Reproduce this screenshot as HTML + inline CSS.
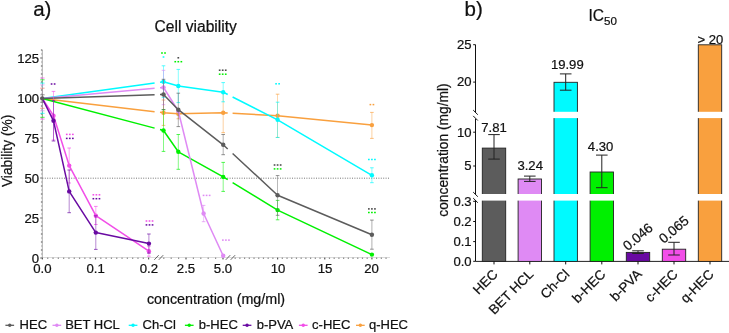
<!DOCTYPE html>
<html><head><meta charset="utf-8"><style>
html,body{margin:0;padding:0;background:#fff;}
svg{display:block;will-change:transform;}
text{font-family:"Liberation Sans", sans-serif;stroke:#111;stroke-width:0.22px;}
</style></head><body>
<svg width="729" height="333" viewBox="0 0 729 333">
<rect width="729" height="333" fill="#fff"/>
<text x="33.2" y="15.6" font-size="20.5" fill="#111">a)</text>
<text x="195.7" y="32.2" font-size="15.6" text-anchor="middle" fill="#111">Cell viability</text>
<text transform="translate(12.3,150.9) rotate(-90)" font-size="13.75" text-anchor="middle" fill="#111">Viability (%)</text>
<text x="216.0" y="303.5" font-size="14.3" text-anchor="middle" fill="#111">concentration (mg/ml)</text>
<line x1="42.3" y1="49.9" x2="42.3" y2="258" stroke="#999" stroke-width="0.8"/>
<line x1="40.2" y1="258.00" x2="42.4" y2="258.00" stroke="#555" stroke-width="0.9"/>
<rect x="41.1" y="253.50" width="1.2" height="1" fill="#999"/>
<rect x="40.9" y="249.50" width="1.4" height="1" fill="#555"/>
<rect x="41.1" y="245.50" width="1.2" height="1" fill="#999"/>
<rect x="40.9" y="241.50" width="1.4" height="1" fill="#555"/>
<rect x="41.1" y="237.50" width="1.2" height="1" fill="#999"/>
<rect x="40.9" y="233.50" width="1.4" height="1" fill="#555"/>
<rect x="41.1" y="229.50" width="1.2" height="1" fill="#999"/>
<rect x="40.9" y="225.50" width="1.4" height="1" fill="#555"/>
<rect x="41.1" y="221.50" width="1.2" height="1" fill="#999"/>
<line x1="40.2" y1="218.00" x2="42.4" y2="218.00" stroke="#555" stroke-width="0.9"/>
<rect x="41.1" y="213.50" width="1.2" height="1" fill="#999"/>
<rect x="40.9" y="209.50" width="1.4" height="1" fill="#555"/>
<rect x="41.1" y="205.50" width="1.2" height="1" fill="#999"/>
<rect x="40.9" y="201.50" width="1.4" height="1" fill="#555"/>
<rect x="41.1" y="197.50" width="1.2" height="1" fill="#999"/>
<rect x="40.9" y="193.50" width="1.4" height="1" fill="#555"/>
<rect x="41.1" y="189.50" width="1.2" height="1" fill="#999"/>
<rect x="40.9" y="185.50" width="1.4" height="1" fill="#555"/>
<rect x="41.1" y="181.50" width="1.2" height="1" fill="#999"/>
<line x1="40.2" y1="178.00" x2="42.4" y2="178.00" stroke="#555" stroke-width="0.9"/>
<rect x="41.1" y="173.50" width="1.2" height="1" fill="#999"/>
<rect x="40.9" y="169.50" width="1.4" height="1" fill="#555"/>
<rect x="41.1" y="165.50" width="1.2" height="1" fill="#999"/>
<rect x="40.9" y="161.50" width="1.4" height="1" fill="#555"/>
<rect x="41.1" y="157.50" width="1.2" height="1" fill="#999"/>
<rect x="40.9" y="153.50" width="1.4" height="1" fill="#555"/>
<rect x="41.1" y="149.50" width="1.2" height="1" fill="#999"/>
<rect x="40.9" y="145.50" width="1.4" height="1" fill="#555"/>
<rect x="41.1" y="141.50" width="1.2" height="1" fill="#999"/>
<line x1="40.2" y1="138.00" x2="42.4" y2="138.00" stroke="#555" stroke-width="0.9"/>
<rect x="41.1" y="133.50" width="1.2" height="1" fill="#999"/>
<rect x="40.9" y="129.50" width="1.4" height="1" fill="#555"/>
<rect x="41.1" y="125.50" width="1.2" height="1" fill="#999"/>
<rect x="40.9" y="121.50" width="1.4" height="1" fill="#555"/>
<rect x="41.1" y="117.50" width="1.2" height="1" fill="#999"/>
<rect x="40.9" y="113.50" width="1.4" height="1" fill="#555"/>
<rect x="41.1" y="109.50" width="1.2" height="1" fill="#999"/>
<rect x="40.9" y="105.50" width="1.4" height="1" fill="#555"/>
<rect x="41.1" y="101.50" width="1.2" height="1" fill="#999"/>
<line x1="40.2" y1="98.00" x2="42.4" y2="98.00" stroke="#555" stroke-width="0.9"/>
<rect x="41.1" y="93.50" width="1.2" height="1" fill="#999"/>
<rect x="40.9" y="89.50" width="1.4" height="1" fill="#555"/>
<rect x="41.1" y="85.50" width="1.2" height="1" fill="#999"/>
<rect x="40.9" y="81.50" width="1.4" height="1" fill="#555"/>
<rect x="41.1" y="77.50" width="1.2" height="1" fill="#999"/>
<rect x="40.9" y="73.50" width="1.4" height="1" fill="#555"/>
<rect x="41.1" y="69.50" width="1.2" height="1" fill="#999"/>
<rect x="40.9" y="65.50" width="1.4" height="1" fill="#555"/>
<rect x="41.1" y="61.50" width="1.2" height="1" fill="#999"/>
<line x1="40.2" y1="58.00" x2="42.4" y2="58.00" stroke="#555" stroke-width="0.9"/>
<rect x="41.1" y="53.50" width="1.2" height="1" fill="#999"/>
<rect x="40.9" y="49.50" width="1.4" height="1" fill="#555"/>
<text x="39.2" y="262.80" font-size="13.2" text-anchor="end" fill="#111">0</text>
<text x="39.2" y="222.80" font-size="13.2" text-anchor="end" fill="#111">25</text>
<text x="39.2" y="182.80" font-size="13.2" text-anchor="end" fill="#111">50</text>
<text x="39.2" y="142.80" font-size="13.2" text-anchor="end" fill="#111">75</text>
<text x="39.2" y="102.80" font-size="13.2" text-anchor="end" fill="#111">100</text>
<text x="39.2" y="62.80" font-size="13.2" text-anchor="end" fill="#111">125</text>
<line x1="42.4" y1="257.5" x2="390" y2="257.5" stroke="#d2d2d2" stroke-width="0.8"/>
<rect x="41.80" y="257.6" width="1.2" height="1.8" fill="#555"/>
<rect x="47.11" y="257.6" width="1.2" height="1.2" fill="#777"/>
<rect x="52.42" y="257.6" width="1.2" height="1.2" fill="#777"/>
<rect x="57.73" y="257.6" width="1.2" height="1.2" fill="#777"/>
<rect x="63.04" y="257.6" width="1.2" height="1.2" fill="#777"/>
<rect x="68.35" y="257.6" width="1.2" height="1.2" fill="#777"/>
<rect x="73.66" y="257.6" width="1.2" height="1.2" fill="#777"/>
<rect x="78.97" y="257.6" width="1.2" height="1.2" fill="#777"/>
<rect x="84.28" y="257.6" width="1.2" height="1.2" fill="#777"/>
<rect x="89.59" y="257.6" width="1.2" height="1.2" fill="#777"/>
<rect x="94.90" y="257.6" width="1.2" height="1.8" fill="#555"/>
<rect x="100.21" y="257.6" width="1.2" height="1.2" fill="#777"/>
<rect x="105.52" y="257.6" width="1.2" height="1.2" fill="#777"/>
<rect x="110.83" y="257.6" width="1.2" height="1.2" fill="#777"/>
<rect x="116.14" y="257.6" width="1.2" height="1.2" fill="#777"/>
<rect x="121.45" y="257.6" width="1.2" height="1.2" fill="#777"/>
<rect x="126.76" y="257.6" width="1.2" height="1.2" fill="#777"/>
<rect x="132.07" y="257.6" width="1.2" height="1.2" fill="#777"/>
<rect x="137.38" y="257.6" width="1.2" height="1.2" fill="#777"/>
<rect x="142.69" y="257.6" width="1.2" height="1.2" fill="#777"/>
<rect x="148.00" y="257.6" width="1.2" height="1.8" fill="#555"/>
<rect x="163.20" y="257.6" width="1.2" height="1.2" fill="#777"/>
<rect x="170.60" y="257.6" width="1.2" height="1.2" fill="#777"/>
<rect x="178.00" y="257.6" width="1.2" height="1.2" fill="#777"/>
<rect x="185.40" y="257.6" width="1.2" height="1.8" fill="#555"/>
<rect x="192.80" y="257.6" width="1.2" height="1.2" fill="#777"/>
<rect x="200.20" y="257.6" width="1.2" height="1.2" fill="#777"/>
<rect x="207.60" y="257.6" width="1.2" height="1.2" fill="#777"/>
<rect x="215.00" y="257.6" width="1.2" height="1.2" fill="#777"/>
<rect x="222.40" y="257.6" width="1.2" height="1.8" fill="#555"/>
<rect x="234.57" y="257.6" width="1.2" height="1.2" fill="#777"/>
<rect x="239.28" y="257.6" width="1.2" height="1.2" fill="#777"/>
<rect x="244.00" y="257.6" width="1.2" height="1.2" fill="#777"/>
<rect x="248.71" y="257.6" width="1.2" height="1.2" fill="#777"/>
<rect x="253.43" y="257.6" width="1.2" height="1.2" fill="#777"/>
<rect x="258.14" y="257.6" width="1.2" height="1.2" fill="#777"/>
<rect x="262.86" y="257.6" width="1.2" height="1.2" fill="#777"/>
<rect x="267.57" y="257.6" width="1.2" height="1.2" fill="#777"/>
<rect x="272.29" y="257.6" width="1.2" height="1.2" fill="#777"/>
<rect x="277.00" y="257.6" width="1.2" height="1.8" fill="#555"/>
<rect x="281.71" y="257.6" width="1.2" height="1.2" fill="#777"/>
<rect x="286.43" y="257.6" width="1.2" height="1.2" fill="#777"/>
<rect x="291.14" y="257.6" width="1.2" height="1.2" fill="#777"/>
<rect x="295.86" y="257.6" width="1.2" height="1.2" fill="#777"/>
<rect x="300.57" y="257.6" width="1.2" height="1.2" fill="#777"/>
<rect x="305.29" y="257.6" width="1.2" height="1.2" fill="#777"/>
<rect x="310.00" y="257.6" width="1.2" height="1.2" fill="#777"/>
<rect x="314.72" y="257.6" width="1.2" height="1.2" fill="#777"/>
<rect x="319.44" y="257.6" width="1.2" height="1.2" fill="#777"/>
<rect x="324.15" y="257.6" width="1.2" height="1.8" fill="#555"/>
<rect x="328.87" y="257.6" width="1.2" height="1.2" fill="#777"/>
<rect x="333.58" y="257.6" width="1.2" height="1.2" fill="#777"/>
<rect x="338.30" y="257.6" width="1.2" height="1.2" fill="#777"/>
<rect x="343.01" y="257.6" width="1.2" height="1.2" fill="#777"/>
<rect x="347.73" y="257.6" width="1.2" height="1.2" fill="#777"/>
<rect x="352.44" y="257.6" width="1.2" height="1.2" fill="#777"/>
<rect x="357.15" y="257.6" width="1.2" height="1.2" fill="#777"/>
<rect x="361.87" y="257.6" width="1.2" height="1.2" fill="#777"/>
<rect x="366.58" y="257.6" width="1.2" height="1.2" fill="#777"/>
<rect x="371.30" y="257.6" width="1.2" height="1.8" fill="#555"/>
<rect x="376.01" y="257.6" width="1.2" height="1.2" fill="#777"/>
<rect x="380.73" y="257.6" width="1.2" height="1.2" fill="#777"/>
<rect x="385.44" y="257.6" width="1.2" height="1.2" fill="#777"/>
<line x1="154.3" y1="259.8" x2="158.7" y2="255.2" stroke="#555" stroke-width="0.9"/>
<line x1="158.8" y1="259.8" x2="163.2" y2="255.2" stroke="#555" stroke-width="0.9"/>
<line x1="225.8" y1="259.8" x2="230.2" y2="255.2" stroke="#555" stroke-width="0.9"/>
<line x1="230.7" y1="259.8" x2="235.1" y2="255.2" stroke="#555" stroke-width="0.9"/>
<text x="42.4" y="273.3" font-size="13.2" text-anchor="middle" fill="#111">0.0</text>
<text x="95.6" y="273.3" font-size="13.2" text-anchor="middle" fill="#111">0.1</text>
<text x="148.9" y="273.3" font-size="13.2" text-anchor="middle" fill="#111">0.2</text>
<text x="186" y="273.3" font-size="13.2" text-anchor="middle" fill="#111">2.5</text>
<text x="223" y="273.3" font-size="13.2" text-anchor="middle" fill="#111">5.0</text>
<text x="278" y="273.3" font-size="13.2" text-anchor="middle" fill="#111">10</text>
<text x="325" y="273.3" font-size="13.2" text-anchor="middle" fill="#111">15</text>
<text x="371.5" y="273.3" font-size="13.2" text-anchor="middle" fill="#111">20</text>
<line x1="42.4" y1="178.2" x2="390" y2="178.2" stroke="#666" stroke-width="0.9" stroke-dasharray="1 1.4"/>
<line x1="42.4" y1="78.0" x2="42.4" y2="119.1" stroke="#f24ee8" stroke-width="0.6" opacity="0.6"/>
<line x1="40.199999999999996" y1="78.0" x2="44.6" y2="78.0" stroke="#f24ee8" stroke-width="0.9" opacity="0.75"/>
<line x1="40.199999999999996" y1="119.1" x2="44.6" y2="119.1" stroke="#f24ee8" stroke-width="0.9" opacity="0.75"/>
<line x1="42.4" y1="79.8" x2="42.4" y2="117.3" stroke="#00f000" stroke-width="0.6" opacity="0.6"/>
<line x1="40.199999999999996" y1="79.8" x2="44.6" y2="79.8" stroke="#00f000" stroke-width="0.9" opacity="0.75"/>
<line x1="40.199999999999996" y1="117.3" x2="44.6" y2="117.3" stroke="#00f000" stroke-width="0.9" opacity="0.75"/>
<line x1="42.4" y1="83.1" x2="42.4" y2="113.3" stroke="#00faff" stroke-width="0.6" opacity="0.6"/>
<line x1="40.199999999999996" y1="83.1" x2="44.6" y2="83.1" stroke="#00faff" stroke-width="0.9" opacity="0.75"/>
<line x1="40.199999999999996" y1="113.3" x2="44.6" y2="113.3" stroke="#00faff" stroke-width="0.9" opacity="0.75"/>
<line x1="42.4" y1="84.9" x2="42.4" y2="110.8" stroke="#df8af4" stroke-width="0.6" opacity="0.6"/>
<line x1="40.199999999999996" y1="84.9" x2="44.6" y2="84.9" stroke="#df8af4" stroke-width="0.9" opacity="0.75"/>
<line x1="40.199999999999996" y1="110.8" x2="44.6" y2="110.8" stroke="#df8af4" stroke-width="0.9" opacity="0.75"/>
<line x1="42.4" y1="88.2" x2="42.4" y2="108.3" stroke="#ec7468" stroke-width="0.6" opacity="0.6"/>
<line x1="40.199999999999996" y1="88.2" x2="44.6" y2="88.2" stroke="#ec7468" stroke-width="0.9" opacity="0.75"/>
<line x1="40.199999999999996" y1="108.3" x2="44.6" y2="108.3" stroke="#ec7468" stroke-width="0.9" opacity="0.75"/>
<line x1="42.4" y1="94.8" x2="42.4" y2="102.2" stroke="#5c5c5c" stroke-width="0.6" opacity="0.6"/>
<line x1="40.199999999999996" y1="94.8" x2="44.6" y2="94.8" stroke="#5c5c5c" stroke-width="0.9" opacity="0.75"/>
<line x1="40.199999999999996" y1="102.2" x2="44.6" y2="102.2" stroke="#5c5c5c" stroke-width="0.9" opacity="0.75"/>
<line x1="163.5" y1="100.0" x2="163.5" y2="125.4" stroke="#f9a03e" stroke-width="0.8" opacity="0.6"/>
<line x1="161.7" y1="100.0" x2="165.3" y2="100.0" stroke="#f9a03e" stroke-width="0.9" opacity="0.75"/>
<line x1="161.7" y1="125.4" x2="165.3" y2="125.4" stroke="#f9a03e" stroke-width="0.9" opacity="0.75"/>
<line x1="178.3" y1="108.8" x2="178.3" y2="118.8" stroke="#f9a03e" stroke-width="0.8" opacity="0.6"/>
<line x1="176.5" y1="108.8" x2="180.10000000000002" y2="108.8" stroke="#f9a03e" stroke-width="0.9" opacity="0.75"/>
<line x1="176.5" y1="118.8" x2="180.10000000000002" y2="118.8" stroke="#f9a03e" stroke-width="0.9" opacity="0.75"/>
<line x1="223.2" y1="92.70000000000002" x2="223.2" y2="132.7" stroke="#f9a03e" stroke-width="0.8" opacity="0.6"/>
<line x1="221.39999999999998" y1="92.70000000000002" x2="225.0" y2="92.70000000000002" stroke="#f9a03e" stroke-width="0.9" opacity="0.75"/>
<line x1="221.39999999999998" y1="132.7" x2="225.0" y2="132.7" stroke="#f9a03e" stroke-width="0.9" opacity="0.75"/>
<line x1="277.6" y1="94.2" x2="277.6" y2="137.39999999999998" stroke="#f9a03e" stroke-width="0.8" opacity="0.6"/>
<line x1="275.8" y1="94.2" x2="279.40000000000003" y2="94.2" stroke="#f9a03e" stroke-width="0.9" opacity="0.75"/>
<line x1="275.8" y1="137.39999999999998" x2="279.40000000000003" y2="137.39999999999998" stroke="#f9a03e" stroke-width="0.9" opacity="0.75"/>
<line x1="371.9" y1="112.4" x2="371.9" y2="138.4" stroke="#f9a03e" stroke-width="0.8" opacity="0.6"/>
<line x1="370.09999999999997" y1="112.4" x2="373.7" y2="112.4" stroke="#f9a03e" stroke-width="0.9" opacity="0.75"/>
<line x1="370.09999999999997" y1="138.4" x2="373.7" y2="138.4" stroke="#f9a03e" stroke-width="0.9" opacity="0.75"/>
<path d="M42.30,98.40L154.60,111.65M160.00,112.29L163.50,112.70M163.50,112.70L178.30,113.80M178.30,113.80L223.20,112.70M223.20,112.70L227.70,112.96M232.60,113.24L277.60,115.80M277.60,115.80L371.90,125.10" stroke="#f9a03e" stroke-width="1.5" fill="none"/>
<circle cx="163.5" cy="112.7" r="2.2" fill="#f9a03e"/>
<circle cx="178.3" cy="113.8" r="2.2" fill="#f9a03e"/>
<circle cx="223.2" cy="112.7" r="2.2" fill="#f9a03e"/>
<circle cx="277.6" cy="115.8" r="2.2" fill="#f9a03e"/>
<circle cx="371.9" cy="125.1" r="2.2" fill="#f9a03e"/>
<line x1="163.5" y1="109.6" x2="163.5" y2="151.4" stroke="#00f000" stroke-width="0.8" opacity="0.6"/>
<line x1="161.7" y1="109.6" x2="165.3" y2="109.6" stroke="#00f000" stroke-width="0.9" opacity="0.75"/>
<line x1="161.7" y1="151.4" x2="165.3" y2="151.4" stroke="#00f000" stroke-width="0.9" opacity="0.75"/>
<line x1="178.3" y1="134.5" x2="178.3" y2="169.3" stroke="#00f000" stroke-width="0.8" opacity="0.6"/>
<line x1="176.5" y1="134.5" x2="180.10000000000002" y2="134.5" stroke="#00f000" stroke-width="0.9" opacity="0.75"/>
<line x1="176.5" y1="169.3" x2="180.10000000000002" y2="169.3" stroke="#00f000" stroke-width="0.9" opacity="0.75"/>
<line x1="223.2" y1="162.4" x2="223.2" y2="191.4" stroke="#00f000" stroke-width="0.8" opacity="0.6"/>
<line x1="221.39999999999998" y1="162.4" x2="225.0" y2="162.4" stroke="#00f000" stroke-width="0.9" opacity="0.75"/>
<line x1="221.39999999999998" y1="191.4" x2="225.0" y2="191.4" stroke="#00f000" stroke-width="0.9" opacity="0.75"/>
<line x1="277.6" y1="200.4" x2="277.6" y2="219.8" stroke="#00f000" stroke-width="0.8" opacity="0.6"/>
<line x1="275.8" y1="200.4" x2="279.40000000000003" y2="200.4" stroke="#00f000" stroke-width="0.9" opacity="0.75"/>
<line x1="275.8" y1="219.8" x2="279.40000000000003" y2="219.8" stroke="#00f000" stroke-width="0.9" opacity="0.75"/>
<path d="M42.30,98.40L154.60,128.14M160.00,129.57L163.50,130.50M163.50,130.50L178.30,151.80M178.30,151.80L223.20,176.90M223.20,176.90L227.70,179.65M232.60,182.64L277.60,210.10M277.60,210.10L371.90,254.60" stroke="#00f000" stroke-width="1.5" fill="none"/>
<circle cx="163.5" cy="130.5" r="2.2" fill="#00f000"/>
<circle cx="178.3" cy="151.8" r="2.2" fill="#00f000"/>
<circle cx="223.2" cy="176.9" r="2.2" fill="#00f000"/>
<circle cx="277.6" cy="210.1" r="2.2" fill="#00f000"/>
<circle cx="371.9" cy="254.6" r="2.2" fill="#00f000"/>
<line x1="163.5" y1="65.8" x2="163.5" y2="97.60000000000001" stroke="#00faff" stroke-width="0.8" opacity="0.6"/>
<line x1="161.7" y1="65.8" x2="165.3" y2="65.8" stroke="#00faff" stroke-width="0.9" opacity="0.75"/>
<line x1="161.7" y1="97.60000000000001" x2="165.3" y2="97.60000000000001" stroke="#00faff" stroke-width="0.9" opacity="0.75"/>
<line x1="178.3" y1="69.4" x2="178.3" y2="102.6" stroke="#00faff" stroke-width="0.8" opacity="0.6"/>
<line x1="176.5" y1="69.4" x2="180.10000000000002" y2="69.4" stroke="#00faff" stroke-width="0.9" opacity="0.75"/>
<line x1="176.5" y1="102.6" x2="180.10000000000002" y2="102.6" stroke="#00faff" stroke-width="0.9" opacity="0.75"/>
<line x1="223.2" y1="82.6" x2="223.2" y2="101.80000000000001" stroke="#00faff" stroke-width="0.8" opacity="0.6"/>
<line x1="221.39999999999998" y1="82.6" x2="225.0" y2="82.6" stroke="#00faff" stroke-width="0.9" opacity="0.75"/>
<line x1="221.39999999999998" y1="101.80000000000001" x2="225.0" y2="101.80000000000001" stroke="#00faff" stroke-width="0.9" opacity="0.75"/>
<line x1="277.6" y1="102.2" x2="277.6" y2="137.5" stroke="#00faff" stroke-width="0.8" opacity="0.6"/>
<line x1="275.8" y1="102.2" x2="279.40000000000003" y2="102.2" stroke="#00faff" stroke-width="0.9" opacity="0.75"/>
<line x1="275.8" y1="137.5" x2="279.40000000000003" y2="137.5" stroke="#00faff" stroke-width="0.9" opacity="0.75"/>
<line x1="371.9" y1="167.8" x2="371.9" y2="182.7" stroke="#00faff" stroke-width="0.8" opacity="0.6"/>
<line x1="370.09999999999997" y1="167.8" x2="373.7" y2="167.8" stroke="#00faff" stroke-width="0.9" opacity="0.75"/>
<line x1="370.09999999999997" y1="182.7" x2="373.7" y2="182.7" stroke="#00faff" stroke-width="0.9" opacity="0.75"/>
<path d="M42.30,98.40L154.60,82.93M160.00,82.18L163.50,81.70M163.50,81.70L178.30,86.00M178.30,86.00L223.20,92.20M223.20,92.20L227.70,94.48M232.60,96.97L277.60,119.80M277.60,119.80L371.90,175.30" stroke="#00faff" stroke-width="1.5" fill="none"/>
<circle cx="163.5" cy="81.7" r="2.2" fill="#00faff"/>
<circle cx="178.3" cy="86.0" r="2.2" fill="#00faff"/>
<circle cx="223.2" cy="92.2" r="2.2" fill="#00faff"/>
<circle cx="277.6" cy="119.8" r="2.2" fill="#00faff"/>
<circle cx="371.9" cy="175.3" r="2.2" fill="#00faff"/>
<line x1="163.5" y1="70.3" x2="163.5" y2="104.7" stroke="#df8af4" stroke-width="0.8" opacity="0.6"/>
<line x1="161.7" y1="70.3" x2="165.3" y2="70.3" stroke="#df8af4" stroke-width="0.9" opacity="0.75"/>
<line x1="161.7" y1="104.7" x2="165.3" y2="104.7" stroke="#df8af4" stroke-width="0.9" opacity="0.75"/>
<line x1="203.6" y1="205.4" x2="203.6" y2="221.7" stroke="#df8af4" stroke-width="0.8" opacity="0.6"/>
<line x1="201.79999999999998" y1="205.4" x2="205.4" y2="205.4" stroke="#df8af4" stroke-width="0.9" opacity="0.75"/>
<line x1="201.79999999999998" y1="221.7" x2="205.4" y2="221.7" stroke="#df8af4" stroke-width="0.9" opacity="0.75"/>
<path d="M42.30,98.40L154.60,88.30M160.00,87.81L163.50,87.50M163.50,87.50L178.30,111.00M178.30,111.00L203.60,213.50M203.60,213.50L223.20,255.80" stroke="#df8af4" stroke-width="1.5" fill="none"/>
<circle cx="163.5" cy="87.5" r="2.2" fill="#df8af4"/>
<circle cx="178.3" cy="111.0" r="2.2" fill="#df8af4"/>
<circle cx="203.6" cy="213.5" r="2.2" fill="#df8af4"/>
<circle cx="223.2" cy="255.8" r="2.2" fill="#df8af4"/>
<line x1="163.5" y1="79.3" x2="163.5" y2="109.7" stroke="#5c5c5c" stroke-width="0.8" opacity="0.6"/>
<line x1="161.7" y1="79.3" x2="165.3" y2="79.3" stroke="#5c5c5c" stroke-width="0.9" opacity="0.75"/>
<line x1="161.7" y1="109.7" x2="165.3" y2="109.7" stroke="#5c5c5c" stroke-width="0.9" opacity="0.75"/>
<line x1="178.3" y1="93.2" x2="178.3" y2="126.6" stroke="#5c5c5c" stroke-width="0.8" opacity="0.6"/>
<line x1="176.5" y1="93.2" x2="180.10000000000002" y2="93.2" stroke="#5c5c5c" stroke-width="0.9" opacity="0.75"/>
<line x1="176.5" y1="126.6" x2="180.10000000000002" y2="126.6" stroke="#5c5c5c" stroke-width="0.9" opacity="0.75"/>
<line x1="223.2" y1="134.5" x2="223.2" y2="154.7" stroke="#5c5c5c" stroke-width="0.8" opacity="0.6"/>
<line x1="221.39999999999998" y1="134.5" x2="225.0" y2="134.5" stroke="#5c5c5c" stroke-width="0.9" opacity="0.75"/>
<line x1="221.39999999999998" y1="154.7" x2="225.0" y2="154.7" stroke="#5c5c5c" stroke-width="0.9" opacity="0.75"/>
<line x1="277.6" y1="175.6" x2="277.6" y2="215.3" stroke="#5c5c5c" stroke-width="0.8" opacity="0.6"/>
<line x1="275.8" y1="175.6" x2="279.40000000000003" y2="175.6" stroke="#5c5c5c" stroke-width="0.9" opacity="0.75"/>
<line x1="275.8" y1="215.3" x2="279.40000000000003" y2="215.3" stroke="#5c5c5c" stroke-width="0.9" opacity="0.75"/>
<line x1="371.9" y1="220.1" x2="371.9" y2="249.2" stroke="#5c5c5c" stroke-width="0.8" opacity="0.6"/>
<line x1="370.09999999999997" y1="220.1" x2="373.7" y2="220.1" stroke="#5c5c5c" stroke-width="0.9" opacity="0.75"/>
<line x1="370.09999999999997" y1="249.2" x2="373.7" y2="249.2" stroke="#5c5c5c" stroke-width="0.9" opacity="0.75"/>
<path d="M42.30,98.40L154.60,94.79M160.00,94.61L163.50,94.50M163.50,94.50L178.30,109.70M178.30,109.70L223.20,144.80M223.20,144.80L227.70,148.97M232.60,153.51L277.60,195.20M277.60,195.20L371.90,234.70" stroke="#5c5c5c" stroke-width="1.5" fill="none"/>
<circle cx="163.5" cy="94.5" r="2.2" fill="#5c5c5c"/>
<circle cx="178.3" cy="109.7" r="2.2" fill="#5c5c5c"/>
<circle cx="223.2" cy="144.8" r="2.2" fill="#5c5c5c"/>
<circle cx="277.6" cy="195.2" r="2.2" fill="#5c5c5c"/>
<circle cx="371.9" cy="234.7" r="2.2" fill="#5c5c5c"/>
<line x1="53.5" y1="91.4" x2="53.5" y2="140.0" stroke="#f24ee8" stroke-width="0.8" opacity="0.6"/>
<line x1="51.7" y1="91.4" x2="55.3" y2="91.4" stroke="#f24ee8" stroke-width="0.9" opacity="0.75"/>
<line x1="51.7" y1="140.0" x2="55.3" y2="140.0" stroke="#f24ee8" stroke-width="0.9" opacity="0.75"/>
<line x1="69.2" y1="148" x2="69.2" y2="183" stroke="#f24ee8" stroke-width="0.8" opacity="0.6"/>
<line x1="67.4" y1="148" x2="71.0" y2="148" stroke="#f24ee8" stroke-width="0.9" opacity="0.75"/>
<line x1="67.4" y1="183" x2="71.0" y2="183" stroke="#f24ee8" stroke-width="0.9" opacity="0.75"/>
<line x1="95.8" y1="206.4" x2="95.8" y2="224.5" stroke="#f24ee8" stroke-width="0.8" opacity="0.6"/>
<line x1="94.0" y1="206.4" x2="97.6" y2="206.4" stroke="#f24ee8" stroke-width="0.9" opacity="0.75"/>
<line x1="94.0" y1="224.5" x2="97.6" y2="224.5" stroke="#f24ee8" stroke-width="0.9" opacity="0.75"/>
<line x1="148.9" y1="246.2" x2="148.9" y2="256.2" stroke="#f24ee8" stroke-width="0.8" opacity="0.6"/>
<line x1="147.1" y1="246.2" x2="150.70000000000002" y2="246.2" stroke="#f24ee8" stroke-width="0.9" opacity="0.75"/>
<line x1="147.1" y1="256.2" x2="150.70000000000002" y2="256.2" stroke="#f24ee8" stroke-width="0.9" opacity="0.75"/>
<path d="M42.30,98.40L53.50,115.70M53.50,115.70L69.20,165.60M69.20,165.60L95.80,215.70M95.80,215.70L148.90,251.20" stroke="#f24ee8" stroke-width="1.5" fill="none"/>
<circle cx="53.5" cy="115.7" r="2.2" fill="#f24ee8"/>
<circle cx="69.2" cy="165.6" r="2.2" fill="#f24ee8"/>
<circle cx="95.8" cy="215.7" r="2.2" fill="#f24ee8"/>
<circle cx="148.9" cy="251.2" r="2.2" fill="#f24ee8"/>
<line x1="53.5" y1="100.6" x2="53.5" y2="141" stroke="#690aa2" stroke-width="0.8" opacity="0.6"/>
<line x1="51.7" y1="100.6" x2="55.3" y2="100.6" stroke="#690aa2" stroke-width="0.9" opacity="0.75"/>
<line x1="51.7" y1="141" x2="55.3" y2="141" stroke="#690aa2" stroke-width="0.9" opacity="0.75"/>
<line x1="69.2" y1="170" x2="69.2" y2="212.7" stroke="#690aa2" stroke-width="0.8" opacity="0.6"/>
<line x1="67.4" y1="170" x2="71.0" y2="170" stroke="#690aa2" stroke-width="0.9" opacity="0.75"/>
<line x1="67.4" y1="212.7" x2="71.0" y2="212.7" stroke="#690aa2" stroke-width="0.9" opacity="0.75"/>
<line x1="95.8" y1="215.8" x2="95.8" y2="249.4" stroke="#690aa2" stroke-width="0.8" opacity="0.6"/>
<line x1="94.0" y1="215.8" x2="97.6" y2="215.8" stroke="#690aa2" stroke-width="0.9" opacity="0.75"/>
<line x1="94.0" y1="249.4" x2="97.6" y2="249.4" stroke="#690aa2" stroke-width="0.9" opacity="0.75"/>
<line x1="148.9" y1="234" x2="148.9" y2="253.2" stroke="#690aa2" stroke-width="0.8" opacity="0.6"/>
<line x1="147.1" y1="234" x2="150.70000000000002" y2="234" stroke="#690aa2" stroke-width="0.9" opacity="0.75"/>
<line x1="147.1" y1="253.2" x2="150.70000000000002" y2="253.2" stroke="#690aa2" stroke-width="0.9" opacity="0.75"/>
<path d="M42.30,98.40L53.50,120.80M53.50,120.80L69.20,191.40M69.20,191.40L95.80,232.60M95.80,232.60L148.90,243.60" stroke="#690aa2" stroke-width="1.5" fill="none"/>
<circle cx="53.5" cy="120.8" r="2.2" fill="#690aa2"/>
<circle cx="69.2" cy="191.4" r="2.2" fill="#690aa2"/>
<circle cx="95.8" cy="232.6" r="2.2" fill="#690aa2"/>
<circle cx="148.9" cy="243.6" r="2.2" fill="#690aa2"/>
<circle cx="42.3" cy="98.4" r="2.2" fill="#5b5b5b"/>
<rect x="50.73" y="83.25" width="1.7" height="1.5" fill="#690aa2"/>
<rect x="53.77" y="83.25" width="1.7" height="1.5" fill="#690aa2"/>
<rect x="65.91" y="133.65" width="1.7" height="1.5" fill="#f24ee8"/>
<rect x="68.95" y="133.65" width="1.7" height="1.5" fill="#f24ee8"/>
<rect x="72.00" y="133.65" width="1.7" height="1.5" fill="#f24ee8"/>
<rect x="65.91" y="137.65" width="1.7" height="1.5" fill="#690aa2"/>
<rect x="68.95" y="137.65" width="1.7" height="1.5" fill="#690aa2"/>
<rect x="72.00" y="137.65" width="1.7" height="1.5" fill="#690aa2"/>
<rect x="92.51" y="194.05" width="1.7" height="1.5" fill="#f24ee8"/>
<rect x="95.55" y="194.05" width="1.7" height="1.5" fill="#f24ee8"/>
<rect x="98.60" y="194.05" width="1.7" height="1.5" fill="#f24ee8"/>
<rect x="92.51" y="197.95" width="1.7" height="1.5" fill="#690aa2"/>
<rect x="95.55" y="197.95" width="1.7" height="1.5" fill="#690aa2"/>
<rect x="98.60" y="197.95" width="1.7" height="1.5" fill="#690aa2"/>
<rect x="145.61" y="220.25" width="1.7" height="1.5" fill="#f24ee8"/>
<rect x="148.65" y="220.25" width="1.7" height="1.5" fill="#f24ee8"/>
<rect x="151.69" y="220.25" width="1.7" height="1.5" fill="#f24ee8"/>
<rect x="145.61" y="224.15" width="1.7" height="1.5" fill="#690aa2"/>
<rect x="148.65" y="224.15" width="1.7" height="1.5" fill="#690aa2"/>
<rect x="151.69" y="224.15" width="1.7" height="1.5" fill="#690aa2"/>
<rect x="161.13" y="52.25" width="1.7" height="1.5" fill="#00f000"/>
<rect x="164.17" y="52.25" width="1.7" height="1.5" fill="#00f000"/>
<rect x="162.65" y="56.25" width="1.7" height="1.5" fill="#00faff"/>
<rect x="177.45" y="57.05" width="1.7" height="1.5" fill="#444"/>
<rect x="174.41" y="60.95" width="1.7" height="1.5" fill="#00f000"/>
<rect x="177.45" y="60.95" width="1.7" height="1.5" fill="#00f000"/>
<rect x="180.50" y="60.95" width="1.7" height="1.5" fill="#00f000"/>
<rect x="218.81" y="69.45" width="1.7" height="1.5" fill="#444"/>
<rect x="221.85" y="69.45" width="1.7" height="1.5" fill="#444"/>
<rect x="224.89" y="69.45" width="1.7" height="1.5" fill="#444"/>
<rect x="218.81" y="73.45" width="1.7" height="1.5" fill="#00f000"/>
<rect x="221.85" y="73.45" width="1.7" height="1.5" fill="#00f000"/>
<rect x="224.89" y="73.45" width="1.7" height="1.5" fill="#00f000"/>
<rect x="202.71" y="194.65" width="1.7" height="1.5" fill="#df8af4"/>
<rect x="205.75" y="194.65" width="1.7" height="1.5" fill="#df8af4"/>
<rect x="208.79" y="194.65" width="1.7" height="1.5" fill="#df8af4"/>
<rect x="222.01" y="239.35" width="1.7" height="1.5" fill="#df8af4"/>
<rect x="225.05" y="239.35" width="1.7" height="1.5" fill="#df8af4"/>
<rect x="228.09" y="239.35" width="1.7" height="1.5" fill="#df8af4"/>
<rect x="275.23" y="83.05" width="1.7" height="1.5" fill="#00faff"/>
<rect x="278.27" y="83.05" width="1.7" height="1.5" fill="#00faff"/>
<rect x="273.70" y="164.25" width="1.7" height="1.5" fill="#444"/>
<rect x="276.75" y="164.25" width="1.7" height="1.5" fill="#444"/>
<rect x="279.80" y="164.25" width="1.7" height="1.5" fill="#444"/>
<rect x="273.70" y="168.15" width="1.7" height="1.5" fill="#00f000"/>
<rect x="276.75" y="168.15" width="1.7" height="1.5" fill="#00f000"/>
<rect x="279.80" y="168.15" width="1.7" height="1.5" fill="#00f000"/>
<rect x="369.53" y="103.85" width="1.7" height="1.5" fill="#f9a03e"/>
<rect x="372.57" y="103.85" width="1.7" height="1.5" fill="#f9a03e"/>
<rect x="368.00" y="158.75" width="1.7" height="1.5" fill="#00faff"/>
<rect x="371.05" y="158.75" width="1.7" height="1.5" fill="#00faff"/>
<rect x="374.09" y="158.75" width="1.7" height="1.5" fill="#00faff"/>
<rect x="368.00" y="208.15" width="1.7" height="1.5" fill="#444"/>
<rect x="371.05" y="208.15" width="1.7" height="1.5" fill="#444"/>
<rect x="374.09" y="208.15" width="1.7" height="1.5" fill="#444"/>
<rect x="368.00" y="211.75" width="1.7" height="1.5" fill="#00f000"/>
<rect x="371.05" y="211.75" width="1.7" height="1.5" fill="#00f000"/>
<rect x="374.09" y="211.75" width="1.7" height="1.5" fill="#00f000"/>
<line x1="5.4" y1="325.3" x2="14.1" y2="325.3" stroke="#5c5c5c" stroke-width="1.3"/>
<circle cx="9.75" cy="325.3" r="1.7" fill="#5c5c5c"/>
<text x="19.6" y="329.3" font-size="13" fill="#111">HEC</text>
<line x1="52.5" y1="325.3" x2="61.2" y2="325.3" stroke="#df8af4" stroke-width="1.3"/>
<circle cx="56.85" cy="325.3" r="1.7" fill="#df8af4"/>
<text x="65.2" y="329.3" font-size="13" fill="#111">BET HCL</text>
<line x1="128.7" y1="325.3" x2="137.39999999999998" y2="325.3" stroke="#00faff" stroke-width="1.3"/>
<circle cx="133.04999999999998" cy="325.3" r="1.7" fill="#00faff"/>
<text x="142.6" y="329.3" font-size="13" fill="#111">Ch-Cl</text>
<line x1="184.9" y1="325.3" x2="193.6" y2="325.3" stroke="#00f000" stroke-width="1.3"/>
<circle cx="189.25" cy="325.3" r="1.7" fill="#00f000"/>
<text x="198.8" y="329.3" font-size="13" fill="#111">b-HEC</text>
<line x1="242.7" y1="325.3" x2="251.39999999999998" y2="325.3" stroke="#690aa2" stroke-width="1.3"/>
<circle cx="247.04999999999998" cy="325.3" r="1.7" fill="#690aa2"/>
<text x="256.7" y="329.3" font-size="13" fill="#111">b-PVA</text>
<line x1="298.9" y1="325.3" x2="307.59999999999997" y2="325.3" stroke="#f24ee8" stroke-width="1.3"/>
<circle cx="303.25" cy="325.3" r="1.7" fill="#f24ee8"/>
<text x="312.1" y="329.3" font-size="13" fill="#111">c-HEC</text>
<line x1="356" y1="325.3" x2="364.7" y2="325.3" stroke="#f9a03e" stroke-width="1.3"/>
<circle cx="360.35" cy="325.3" r="1.7" fill="#f9a03e"/>
<text x="369" y="329.3" font-size="13" fill="#111">q-HEC</text>
<text x="464.6" y="15.6" font-size="20.5" fill="#111">b)</text>
<text x="588.5" y="21" font-size="15.6" fill="#111">IC<tspan font-size="11.6" dy="3.8">50</tspan></text>
<text transform="translate(448.3,150.0) rotate(-90)" font-size="13.8" text-anchor="middle" fill="#111">concentration (mg/ml)</text>
<path d="M475.5,44.7V112.3M475.5,118.9V194.3M475.5,200.2V261.4" stroke="#111" stroke-width="1" fill="none"/>
<line x1="473.2" y1="44.7" x2="475.5" y2="44.7" stroke="#111" stroke-width="1"/>
<text x="471.6" y="49.0" font-size="13.1" text-anchor="end" fill="#111">25</text>
<line x1="473.2" y1="82.1" x2="475.5" y2="82.1" stroke="#111" stroke-width="1"/>
<text x="471.6" y="86.4" font-size="13.1" text-anchor="end" fill="#111">20</text>
<line x1="473.2" y1="132.2" x2="475.5" y2="132.2" stroke="#111" stroke-width="1"/>
<text x="471.6" y="136.5" font-size="13.1" text-anchor="end" fill="#111">10</text>
<line x1="473.2" y1="166.0" x2="475.5" y2="166.0" stroke="#111" stroke-width="1"/>
<text x="471.6" y="170.3" font-size="13.1" text-anchor="end" fill="#111">5</text>
<line x1="473.2" y1="201.3" x2="475.5" y2="201.3" stroke="#111" stroke-width="1"/>
<text x="471.6" y="205.6" font-size="13.1" text-anchor="end" fill="#111">0.3</text>
<line x1="473.2" y1="221.5" x2="475.5" y2="221.5" stroke="#111" stroke-width="1"/>
<text x="471.6" y="225.8" font-size="13.1" text-anchor="end" fill="#111">0.2</text>
<line x1="473.2" y1="241.6" x2="475.5" y2="241.6" stroke="#111" stroke-width="1"/>
<text x="471.6" y="245.9" font-size="13.1" text-anchor="end" fill="#111">0.1</text>
<line x1="473.2" y1="261.3" x2="475.5" y2="261.3" stroke="#111" stroke-width="1"/>
<text x="471.6" y="265.6" font-size="13.1" text-anchor="end" fill="#111">0.0</text>
<line x1="475.5" y1="261.4" x2="729" y2="261.4" stroke="#222" stroke-width="1"/>
<rect x="482.30" y="148.1" width="23.4" height="113.30" fill="#5c5c5c" stroke="#222" stroke-width="0.9"/>
<line x1="494.0" y1="261.4" x2="494.0" y2="264.4" stroke="#111" stroke-width="1"/>
<rect x="518.10" y="179.0" width="23.4" height="82.40" fill="#df8af4" stroke="#222" stroke-width="0.9"/>
<line x1="529.8" y1="261.4" x2="529.8" y2="264.4" stroke="#111" stroke-width="1"/>
<rect x="554.00" y="82.3" width="23.4" height="179.10" fill="#00faff" stroke="#222" stroke-width="0.9"/>
<line x1="565.7" y1="261.4" x2="565.7" y2="264.4" stroke="#111" stroke-width="1"/>
<rect x="590.10" y="172.0" width="23.4" height="89.40" fill="#00f000" stroke="#222" stroke-width="0.9"/>
<line x1="601.8" y1="261.4" x2="601.8" y2="264.4" stroke="#111" stroke-width="1"/>
<rect x="626.30" y="252.4" width="23.4" height="9.00" fill="#690aa2" stroke="#222" stroke-width="0.9"/>
<line x1="638.0" y1="261.4" x2="638.0" y2="264.4" stroke="#111" stroke-width="1"/>
<rect x="662.30" y="249.2" width="23.4" height="12.20" fill="#f24ee8" stroke="#222" stroke-width="0.9"/>
<line x1="674.0" y1="261.4" x2="674.0" y2="264.4" stroke="#111" stroke-width="1"/>
<rect x="698.30" y="44.8" width="23.4" height="216.60" fill="#f9a03e" stroke="#222" stroke-width="0.9"/>
<line x1="710.0" y1="261.4" x2="710.0" y2="264.4" stroke="#111" stroke-width="1"/>
<rect x="476.7" y="111.8" width="255" height="6.3" fill="#fff"/>
<rect x="476.7" y="194.0" width="255" height="6.6" fill="#fff"/>
<line x1="473.2" y1="110.10000000000001" x2="477.8" y2="114.7" stroke="#111" stroke-width="1"/>
<line x1="473.2" y1="115.9" x2="477.8" y2="120.5" stroke="#111" stroke-width="1"/>
<line x1="473.2" y1="192.1" x2="477.8" y2="196.70000000000002" stroke="#111" stroke-width="1"/>
<line x1="473.2" y1="198.1" x2="477.8" y2="202.70000000000002" stroke="#111" stroke-width="1"/>
<path d="M494.0,134.6V159.1M488.2,134.6H499.8M488.2,159.1H499.8" stroke="#222" stroke-width="1" fill="none"/>
<path d="M529.8,176.1V181.4M524.0,176.1H535.5999999999999M524.0,181.4H535.5999999999999" stroke="#222" stroke-width="1" fill="none"/>
<path d="M565.7,73.9V90.2M559.9000000000001,73.9H571.5M559.9000000000001,90.2H571.5" stroke="#222" stroke-width="1" fill="none"/>
<path d="M601.8,155.1V187.7M596.0,155.1H607.5999999999999M596.0,187.7H607.5999999999999" stroke="#222" stroke-width="1" fill="none"/>
<path d="M638.0,250.8V253.5M632.2,250.8H643.8M632.2,253.5H643.8" stroke="#222" stroke-width="1" fill="none"/>
<path d="M674.0,242.3V255.0M668.2,242.3H679.8M668.2,255.0H679.8" stroke="#222" stroke-width="1" fill="none"/>
<text x="494.0" y="131.8" font-size="13.1" text-anchor="middle" fill="#111">7.81</text>
<text x="530.2" y="169.7" font-size="13.1" text-anchor="middle" fill="#111">3.24</text>
<text x="567.3" y="69.2" font-size="13.1" text-anchor="middle" fill="#111">19.99</text>
<text x="600.6" y="151.4" font-size="13.1" text-anchor="middle" fill="#111">4.30</text>
<text x="710.4" y="44.3" font-size="13.1" text-anchor="middle" fill="#111">&gt; 20</text>
<text transform="translate(627.8,251.2) rotate(-40)" font-size="13.6" fill="#111">0.046</text>
<text transform="translate(663.8,244.0) rotate(-40)" font-size="13.6" fill="#111">0.065</text>
<text transform="translate(498.6,275.0) rotate(-45)" font-size="13.5" text-anchor="end" fill="#111">HEC</text>
<text transform="translate(534.4,275.0) rotate(-45)" font-size="13.5" text-anchor="end" fill="#111">BET HCL</text>
<text transform="translate(570.3,275.0) rotate(-45)" font-size="13.5" text-anchor="end" fill="#111">Ch-Cl</text>
<text transform="translate(606.4,275.0) rotate(-45)" font-size="13.5" text-anchor="end" fill="#111">b-HEC</text>
<text transform="translate(642.6,275.0) rotate(-45)" font-size="13.5" text-anchor="end" fill="#111">b-PVA</text>
<text transform="translate(678.6,275.0) rotate(-45)" font-size="13.5" text-anchor="end" fill="#111">c-HEC</text>
<text transform="translate(714.6,275.0) rotate(-45)" font-size="13.5" text-anchor="end" fill="#111">q-HEC</text>
</svg></body></html>
